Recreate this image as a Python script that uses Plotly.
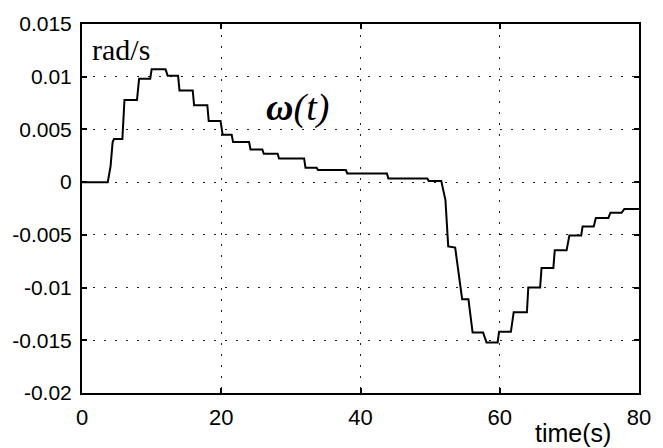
import plotly.graph_objects as go

# Data (time in s, angular velocity in rad/s)
time_s = [0, 3.7, 4.1, 4.4, 4.6, 5.8, 6.1, 7.9, 8.2, 9.8, 10.0, 12.0, 12.3, 13.8, 14.0,
          15.9, 16.1, 18.0, 18.2, 19.9, 20.2, 21.5, 21.7, 24.0, 24.2, 25.9, 26.1, 28.1,
          28.3, 31.9, 32.1, 33.7, 33.9, 37.9, 38.1, 43.8, 44.0, 49.6, 49.8, 51.6, 51.8,
          52.2, 52.6, 53.6, 53.8, 54.6, 55.5, 56.1, 57.6, 58.1, 59.7, 59.9, 61.6, 62.0,
          63.9, 64.1, 65.8, 66.0, 67.7, 67.9, 69.6, 70.0, 71.7, 71.9, 73.5, 73.8, 75.6,
          75.9, 77.5, 77.9, 80.0]
omega = [0, 0, 0.0015, 0.0038, 0.0041, 0.0041, 0.0078, 0.0078, 0.0098, 0.0098, 0.0107,
         0.0107, 0.0101, 0.0101, 0.0087, 0.0087, 0.0073, 0.0073, 0.0058, 0.0058, 0.0045,
         0.0045, 0.0038, 0.0038, 0.0031, 0.0031, 0.0027, 0.0027, 0.00225, 0.00225,
         0.00136, 0.00136, 0.00114, 0.00114, 0.00082, 0.00082, 0.00035, 0.00035, 0.00012,
         0.00012, -0.0005, -0.0017, -0.0061, -0.0062, -0.0072, -0.0111, -0.0111, -0.01425,
         -0.01425, -0.0152, -0.0152, -0.0142, -0.0142, -0.01235, -0.01235, -0.0100,
         -0.0100, -0.00814, -0.00814, -0.00647, -0.00647, -0.00505, -0.00505, -0.0042,
         -0.0042, -0.0034, -0.0034, -0.0029, -0.0029, -0.00254, -0.00254]

x_ticks = [0, 20, 40, 60, 80]
y_ticks = [-0.02, -0.015, -0.01, -0.005, 0, 0.005, 0.01, 0.015]
y_tick_labels = ["-0.02", "-0.015", "-0.01", "-0.005", "0", "0.005", "0.01", "0.015"]

fig = go.Figure()
fig.add_trace(go.Scatter(x=time_s, y=omega, mode="lines",
                         line=dict(color="black", width=2), showlegend=False))

axis_common = dict(
    showgrid=True, gridcolor="#222222", gridwidth=1, griddash="2px,9px",
    showline=True, linecolor="black", linewidth=2, mirror="ticks",
    ticks="inside", ticklen=5, tickwidth=1.5, tickcolor="black",
    zeroline=False,
)

fig.update_layout(
    width=663, height=448,
    margin=dict(l=82, r=12, t=24, b=55),
    paper_bgcolor="white", plot_bgcolor="white",
    xaxis=dict(range=[0, 80], tickvals=x_ticks, ticklabelstandoff=4,
               tickfont=dict(family="Liberation Sans, Arial, sans-serif", size=22, color="black"),
               **axis_common),
    yaxis=dict(range=[-0.02, 0.015], tickvals=y_ticks, ticktext=y_tick_labels,
               ticklabelstandoff=4,
               tickfont=dict(family="Liberation Sans, Arial, sans-serif", size=21, color="black"),
               **axis_common),
    annotations=[
        dict(x=1.2, y=0.0126, xref="x", yref="y", text="rad/s", showarrow=False,
             xanchor="left", yanchor="middle",
             font=dict(family="Liberation Serif, Times New Roman, serif", size=30, color="black")),
        dict(x=26.2, y=0.0071, xref="x", yref="y", text="<b><i>ω</i></b><i>(t)</i>",
             showarrow=False, xanchor="left", yanchor="middle",
             font=dict(family="Liberation Serif, Times New Roman, serif", size=38, color="black")),
        dict(x=584, y=433, xref="paper", yref="paper", text="time(s)", showarrow=False,
             xanchor="center", yanchor="middle",
             font=dict(family="Liberation Sans, Arial, sans-serif", size=25, color="black")),
    ],
)

# position time(s) label in paper coordinates derived from pixel layout
plot_w = 663 - 82 - 12
plot_h = 448 - 24 - 55
fig.layout.annotations[2].x = (584 - 82) / plot_w
fig.layout.annotations[2].y = (448 - 55 - 433) / plot_h

fig.write_html("out.html")
